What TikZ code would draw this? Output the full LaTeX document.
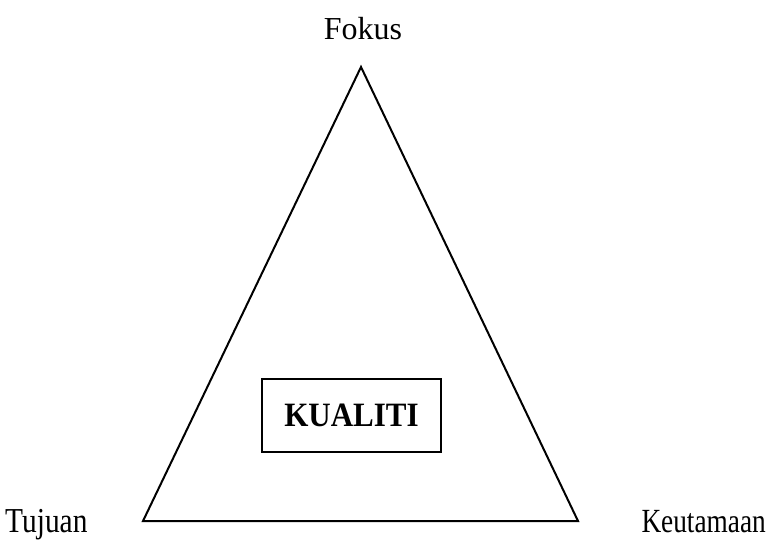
\documentclass[tikz,border=0pt]{standalone}
\usepackage{fontspec}
\setmainfont{Liberation Serif}
\begin{document}
\begin{tikzpicture}[x=1pt,y=-1pt,
  lbl/.style={inner sep=0pt, anchor=base},
  edge/.style={line width=2pt, line join=miter}]
\useasboundingbox (0,0) rectangle (766,546);
\coordinate (apex) at (361,67);
\coordinate (bl) at (143,521);
\coordinate (br) at (578,521);
\draw[edge] (apex) -- (bl) -- (br) -- cycle;
\node[draw, line width=1.5pt, minimum width=179pt, minimum height=73pt, inner sep=0pt,
  font=\fontsize{31}{34}\selectfont\bfseries] (box) at (351.5,415.5) {\scalebox{1}[1.1]{KUALITI}};
\node[lbl, font=\fontsize{32}{35}\selectfont] (fokus) at (363,39) {Fokus};
\node[lbl, font=\fontsize{28}{34}\selectfont, anchor=base west] (tujuan) at (5,532) {\scalebox{1.05}[1.25]{Tujuan}};
\node[lbl, font=\fontsize{26}{32}\selectfont, anchor=base east] (keut) at (766,532) {\scalebox{1.05}[1.3]{Keutamaan}};
\end{tikzpicture}
\end{document}
